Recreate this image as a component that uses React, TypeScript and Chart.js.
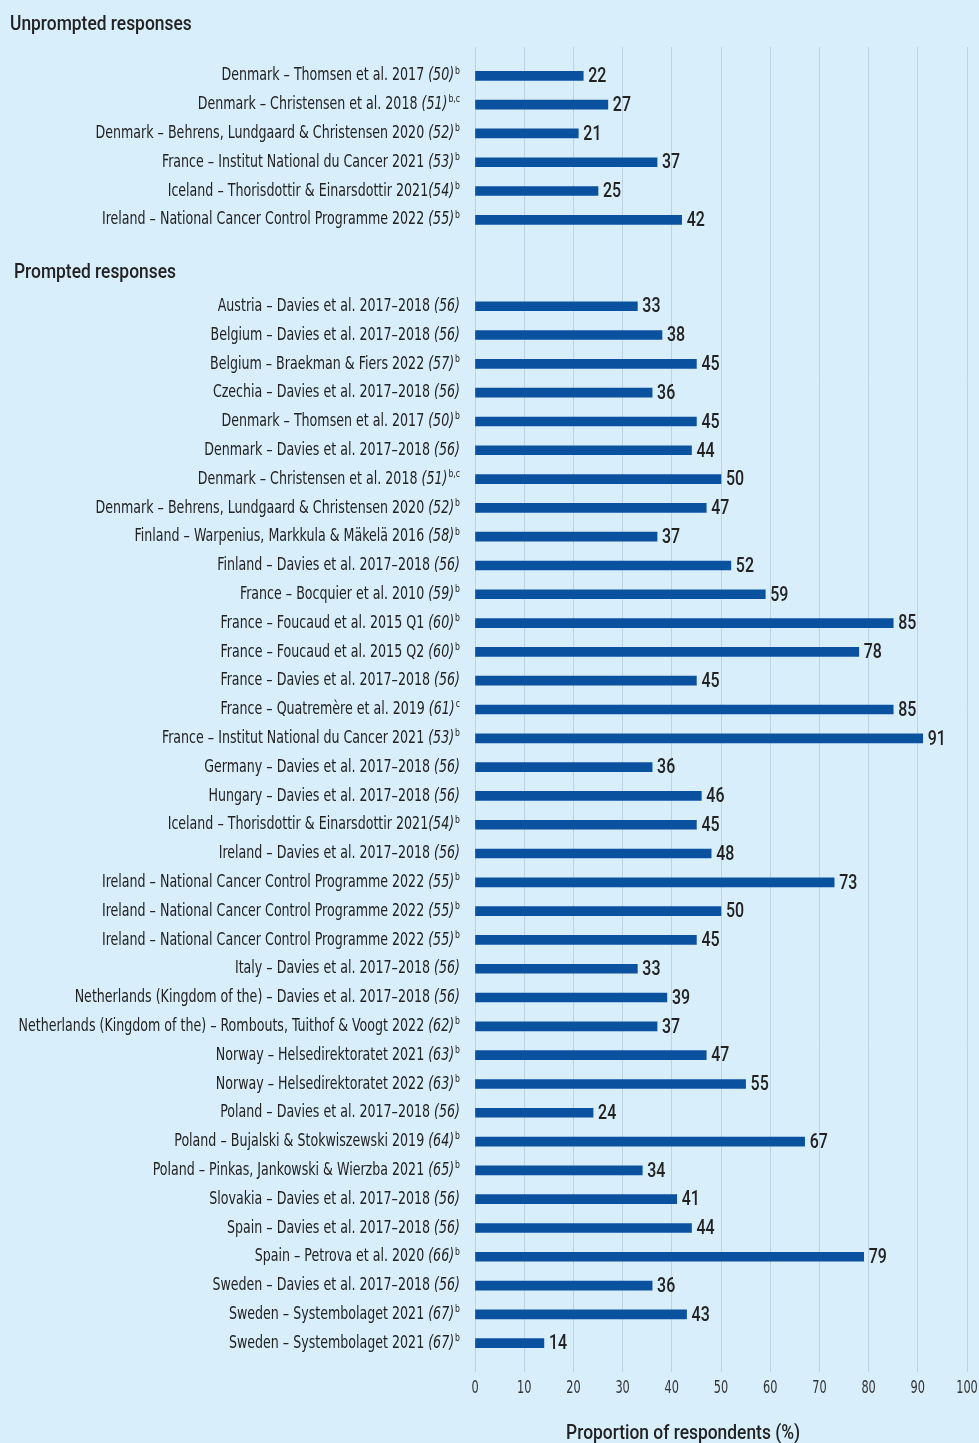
import React, { useEffect, useRef } from "react";
import { Chart, registerables } from "chart.js";

Chart.register(...registerables);

const FONT = '"DejaVu Sans Condensed", "DejaVu Sans", sans-serif';
const FONT_MED = 'Roboto, "DejaVu Sans Condensed", sans-serif';
const BG = "#d9eefb";
const BAR = "#0a52a0";
const GRID = "#bdd3e4";
const TEXT = "#222222";

const unpromptedHeader = "Unprompted responses";
const promptedHeader = "Prompted responses";
const xTitle = "Proportion of respondents (%)";

const unpromptedLabels = [
  "Denmark – Thomsen et al. 2017 ",
  "Denmark – Christensen et al. 2018 ",
  "Denmark – Behrens, Lundgaard & Christensen 2020 ",
  "France – Institut National du Cancer 2021 ",
  "Iceland – Thorisdottir & Einarsdottir 2021",
  "Ireland – National Cancer Control Programme 2022 ",
];
const unpromptedRefs = ["(50)", "(51)", "(52)", "(53)", "(54)", "(55)"];
const unpromptedSups = ["b", "b,c", "b", "b", "b", "b"];
const unpromptedValues = [22, 27, 21, 37, 25, 42];

const promptedLabels = [
  "Austria – Davies et al. 2017–2018 ",
  "Belgium – Davies et al. 2017–2018 ",
  "Belgium – Braekman & Fiers 2022 ",
  "Czechia – Davies et al. 2017–2018 ",
  "Denmark – Thomsen et al. 2017 ",
  "Denmark – Davies et al. 2017–2018 ",
  "Denmark – Christensen et al. 2018 ",
  "Denmark – Behrens, Lundgaard & Christensen 2020 ",
  "Finland – Warpenius, Markkula & Mäkelä 2016 ",
  "Finland – Davies et al. 2017–2018 ",
  "France – Bocquier et al. 2010 ",
  "France – Foucaud et al. 2015 Q1 ",
  "France – Foucaud et al. 2015 Q2 ",
  "France – Davies et al. 2017–2018 ",
  "France – Quatremère et al. 2019 ",
  "France – Institut National du Cancer 2021 ",
  "Germany – Davies et al. 2017–2018 ",
  "Hungary – Davies et al. 2017–2018 ",
  "Iceland – Thorisdottir & Einarsdottir 2021",
  "Ireland – Davies et al. 2017–2018 ",
  "Ireland – National Cancer Control Programme 2022 ",
  "Ireland – National Cancer Control Programme 2022 ",
  "Ireland – National Cancer Control Programme 2022 ",
  "Italy – Davies et al. 2017–2018 ",
  "Netherlands (Kingdom of the) – Davies et al. 2017–2018 ",
  "Netherlands (Kingdom of the) – Rombouts, Tuithof & Voogt 2022 ",
  "Norway – Helsedirektoratet 2021 ",
  "Norway – Helsedirektoratet 2022 ",
  "Poland – Davies et al. 2017–2018 ",
  "Poland – Bujalski & Stokwiszewski 2019 ",
  "Poland – Pinkas, Jankowski & Wierzba 2021 ",
  "Slovakia – Davies et al. 2017–2018 ",
  "Spain – Davies et al. 2017–2018 ",
  "Spain – Petrova et al. 2020 ",
  "Sweden – Davies et al. 2017–2018 ",
  "Sweden – Systembolaget 2021 ",
  "Sweden – Systembolaget 2021 ",
];
const promptedRefs = [
  "(56)", "(56)", "(57)", "(56)", "(50)", "(56)", "(51)", "(52)", "(58)", "(56)",
  "(59)", "(60)", "(60)", "(56)", "(61)", "(53)", "(56)", "(56)", "(54)", "(56)",
  "(55)", "(55)", "(55)", "(56)", "(56)", "(62)", "(63)", "(63)", "(56)", "(64)",
  "(65)", "(56)", "(56)", "(66)", "(56)", "(67)", "(67)",
];
const promptedSups = [
  "", "", "b", "", "b", "", "b,c", "b", "b", "",
  "b", "b", "b", "", "c", "b", "", "", "b", "",
  "b", "b", "b", "", "", "b", "b", "b", "", "b",
  "b", "", "", "b", "", "b", "b",
];
const promptedValues = [
  33, 38, 45, 36, 45, 44, 50, 47, 37, 52,
  59, 85, 78, 45, 85, 91, 36, 46, 45, 48,
  73, 50, 45, 33, 39, 37, 47, 55, 24, 67,
  34, 41, 44, 79, 36, 43, 14,
];
const xTicks = [0, 10, 20, 30, 40, 50, 60, 70, 80, 90, 100];

type Row = { label: string; ref: string; sup: string; value: number | null };

function buildRows(): Row[] {
  const blank: Row = { label: "", ref: "", sup: "", value: null };
  const rows: Row[] = [{ ...blank }];
  unpromptedLabels.forEach((l, i) =>
    rows.push({ label: l, ref: unpromptedRefs[i], sup: unpromptedSups[i], value: unpromptedValues[i] })
  );
  rows.push({ ...blank }, { ...blank });
  promptedLabels.forEach((l, i) =>
    rows.push({ label: l, ref: promptedRefs[i], sup: promptedSups[i], value: promptedValues[i] })
  );
  rows.push({ ...blank });
  return rows;
}

function drawScaled(
  ctx: CanvasRenderingContext2D,
  text: string,
  x: number,
  y: number,
  sx: number,
  align: CanvasTextAlign
) {
  ctx.save();
  ctx.translate(x, y);
  ctx.scale(sx, 1);
  ctx.textAlign = align;
  ctx.fillText(text, 0, 0);
  ctx.restore();
}

export default function App() {
  const ref = useRef<HTMLCanvasElement | null>(null);

  useEffect(() => {
    document.body.style.margin = "0";
    document.body.style.background = BG;
    const rows = buildRows();
    const promptedHeaderIndex = unpromptedLabels.length + 2;
    const LABEL_SX = 0.78;

    const labelPlugin = {
      id: "customText",
      afterDraw(chart: any) {
        const ctx = chart.ctx as CanvasRenderingContext2D;
        const yScale = chart.scales.y;
        const xScale = chart.scales.x;
        const area = chart.chartArea;
        ctx.save();
        ctx.textBaseline = "middle";
        ctx.fillStyle = TEXT;
        const right = area.left - 15;
        const mainFont = `18px ${FONT}`;
        const refFont = `italic 18px ${FONT}`;
        const supFont = `11px ${FONT}`;
        rows.forEach((r, i) => {
          if (!r.label) return;
          const y = yScale.getPixelForValue(i);
          ctx.font = mainFont;
          const w1 = ctx.measureText(r.label).width * LABEL_SX;
          ctx.font = refFont;
          const w2 = ctx.measureText(r.ref).width * LABEL_SX;
          ctx.font = supFont;
          const w3 = r.sup ? ctx.measureText(r.sup).width * LABEL_SX + 1 : 0;
          let x = right - w1 - w2 - w3;
          ctx.font = mainFont;
          drawScaled(ctx, r.label, x, y, LABEL_SX, "left");
          x += w1;
          ctx.font = refFont;
          drawScaled(ctx, r.ref, x, y, LABEL_SX, "left");
          x += w2;
          if (r.sup) {
            ctx.font = supFont;
            drawScaled(ctx, r.sup, x + 1, y - 5, LABEL_SX, "left");
          }
        });
        // x tick labels
        ctx.font = `17px ${FONT}`;
        ctx.fillStyle = "#333333";
        xScale.ticks.forEach((t: any) => {
          drawScaled(ctx, String(t.value), xScale.getPixelForValue(t.value), area.bottom + 17, 0.74, "center");
        });
        // section headers
        ctx.fillStyle = TEXT;
        ctx.font = `500 20px ${FONT_MED}`;
        drawScaled(ctx, unpromptedHeader, 10, 25, 0.87, "left");
        drawScaled(ctx, promptedHeader, 14, yScale.getPixelForValue(promptedHeaderIndex) - 4, 0.87, "left");
        // x title
        ctx.font = `500 20px ${FONT_MED}`;
        drawScaled(ctx, xTitle, xScale.getPixelForValue(42.3), 1434, 0.87, "center");
        ctx.restore();
      },
      afterDatasetsDraw(chart: any) {
        const ctx = chart.ctx as CanvasRenderingContext2D;
        const meta = chart.getDatasetMeta(0);
        ctx.save();
        ctx.font = `500 21px ${FONT_MED}`;
        ctx.fillStyle = TEXT;
        ctx.textBaseline = "middle";
        meta.data.forEach((el: any, i: number) => {
          const v = rows[i].value;
          if (v === null) return;
          drawScaled(ctx, String(v), el.x + 5, el.y + 1, 0.76, "left");
        });
        ctx.restore();
      },
    };

    const chart = new Chart(ref.current as HTMLCanvasElement, {
      type: "bar",
      data: {
        labels: rows.map((r) => r.label),
        datasets: [
          {
            data: rows.map((r) => r.value),
            backgroundColor: BAR,
            barThickness: 9,
          },
        ],
      },
      options: {
        indexAxis: "y",
        animation: false,
        responsive: false,
        events: [],
        layout: { padding: { left: 475, right: 12, top: 47, bottom: 71 } },
        plugins: { legend: { display: false }, tooltip: { enabled: false } },
        scales: {
          x: {
            min: 0,
            max: 100,
            afterBuildTicks: (axis: any) => {
              axis.ticks = xTicks.map((v) => ({ value: v }));
            },
            grid: { color: GRID, lineWidth: 1, drawTicks: false },
            border: { display: false },
            ticks: { display: false },
          },
          y: {
            type: "category",
            offset: false,
            display: false,
          },
        },
      },
      plugins: [labelPlugin],
    });
    return () => chart.destroy();
  }, []);

  return (
    <div style={{ width: 979, height: 1443, background: BG }}>
      <canvas ref={ref} width={979} height={1443} style={{ display: "block" }} />
    </div>
  );
}
